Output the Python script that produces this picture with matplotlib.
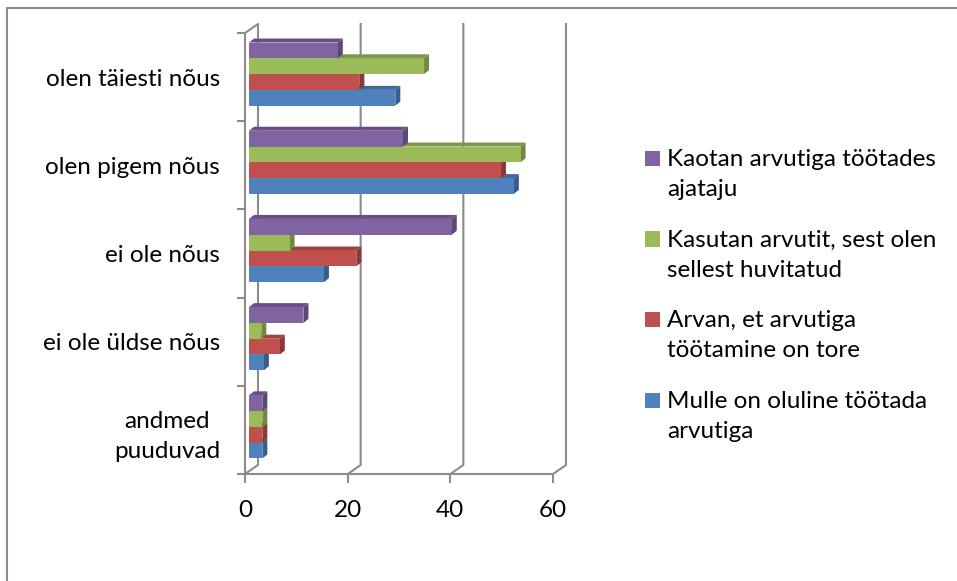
import numpy as np
import matplotlib
matplotlib.use("Agg")
import matplotlib.pyplot as plt
from matplotlib.patches import Polygon, Rectangle
from matplotlib.lines import Line2D
from matplotlib.transforms import offset_copy, IdentityTransform

# Data
categories = ["andmed\npuuduvad", "ei ole üldse nõus", "ei ole nõus",
              "olen pigem nõus", "olen täiesti nõus"]
series = ["Mulle on oluline töötada\narvutiga",
          "Arvan, et arvutiga\ntöötamine on tore",
          "Kasutan arvutit, sest olen\nsellest huvitatud",
          "Kaotan arvutiga töötades\najataju"]
oluline = [2.6, 2.9, 14.6, 51.6, 28.5]
tore = [2.6, 6.0, 20.9, 49.1, 21.5]
huvitatud = [2.6, 2.4, 7.9, 52.9, 34.1]
ajataju = [2.6, 10.6, 39.5, 30.0, 17.3]
x_ticks = [0, 20, 40, 60]

values = [oluline, tore, huvitatud, ajataju]
front_col = ["#4F81BD", "#C0504D", "#9BBB59", "#8064A2"]
side_col = ["#385D8A", "#8C3836", "#71893F", "#5C4776"]
top_col = ["#41699A", "#9E4240", "#7E984A", "#684F88"]
gray = "#8C8C8C"

plt.rcParams["font.family"] = ["Lato", "DejaVu Sans"]
fs = 17.5
line_sp = 1.55

W, H = 957, 581
fig = plt.figure(figsize=(W / 100, H / 100), dpi=100)
ax = fig.add_axes([245 / W, 1 - 474 / H, 308 / W, 441 / H])
ax.set_xlim(0, 60)
ax.set_ylim(-0.5, 4.5)

# 3D look: shifts in pixels
bar_front = np.array([4, 3])
bar_back = np.array([9, 7])
wall = np.array([13, 9])

def px(x, y):
    return ax.transData.transform((x, y))

# back wall grid lines + floor slants
for xv in x_ticks:
    p0 = px(xv, -0.5)
    p1 = px(xv, 4.5)
    pts = np.array([p0, p0 + wall, p1 + wall])
    if xv == 0:
        pts = np.vstack([pts, p1])
    ax.add_line(Line2D(pts[:, 0], pts[:, 1], transform=IdentityTransform(),
                       color=gray, lw=1.5, zorder=1, clip_on=False))

bar_h = 0.179
offsets = (np.arange(4) - 1.5) * bar_h
ypos = np.arange(len(categories))
shift = offset_copy(ax.transData, fig=fig, x=bar_front[0], y=bar_front[1], units="dots")

for k, vals in enumerate(values):
    yc = ypos + offsets[k]
    ax.barh(yc, vals, height=bar_h, color=front_col[k], transform=shift,
            zorder=4 + 2 * k, clip_on=False)
    for v, y in zip(vals, yc):
        y0, y1 = y - bar_h / 2, y + bar_h / 2
        br = px(v, y0)
        tr = px(v, y1)
        tl = px(0, y1)
        side = [br + bar_front, tr + bar_front, tr + bar_back, br + bar_back]
        top = [tl + bar_front, tr + bar_front, tr + bar_back, tl + bar_back]
        ax.add_patch(Polygon(side, closed=True, transform=IdentityTransform(),
                             facecolor=side_col[k], edgecolor="none",
                             zorder=3 + 2 * k, clip_on=False))
        ax.add_patch(Polygon(top, closed=True, transform=IdentityTransform(),
                             facecolor=top_col[k], edgecolor="none",
                             zorder=3 + 2 * k, clip_on=False))

ax.set_xlim(0, 60)
ax.set_ylim(-0.5, 4.5)

for s in ["top", "right"]:
    ax.spines[s].set_visible(False)
for s in ["left", "bottom"]:
    ax.spines[s].set_color(gray)
    ax.spines[s].set_linewidth(1.5)
    ax.spines[s].set_zorder(20)
ax.patch.set_visible(False)

ax.set_yticks(ypos, labels=categories)
ax.set_yticks(np.arange(-0.5, 5, 1), minor=True)
ax.tick_params(axis="y", which="major", length=0, pad=18, labelsize=fs)
ax.tick_params(axis="y", which="minor", length=5.8, width=1.5, color=gray)
for t in ax.get_yticklabels():
    t.set_multialignment("center")
    t.set_linespacing(line_sp)
ax.set_xticks(x_ticks)
ax.tick_params(axis="x", length=6.5, width=1.5, color=gray, pad=12, labelsize=fs)

# outer border (only left and top visible in the crop)
fig.add_artist(Line2D([7.5 / W, 7.5 / W, 1], [0, 1 - 7.5 / H, 1 - 7.5 / H],
                      transform=fig.transFigure, color=gray, lw=1.5))

# legend: square key aligned with the first line of each entry
key_x, key_size, text_x = 645, 15, 667
first_y, pitch = 151, 80.5
for i, k in enumerate(range(3, -1, -1)):
    ytop = first_y + i * pitch
    fig.add_artist(Rectangle((key_x / W, 1 - (ytop + key_size) / H), key_size / W, key_size / H,
                             transform=fig.transFigure, facecolor=front_col[k], edgecolor="none"))
    fig.text(text_x / W, 1 - (ytop - 2) / H, series[k], fontsize=fs,
             va="top", ha="left", linespacing=line_sp)

fig.savefig("out.png", dpi=100)
